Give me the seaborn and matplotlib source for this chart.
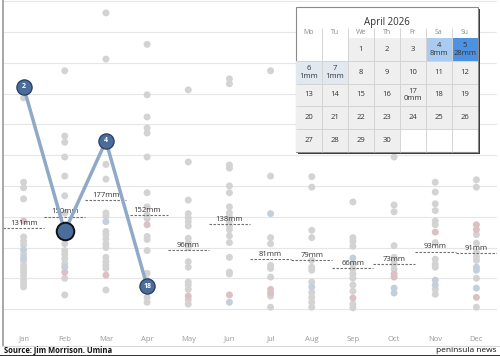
import numpy as np
import pandas as pd
import seaborn as sns
import matplotlib.pyplot as plt
from matplotlib.colors import LinearSegmentedColormap
from matplotlib.patches import Rectangle
from matplotlib.lines import Line2D

months = ["Jan", "Feb", "Mar", "Apr", "May", "Jun",
          "Jul", "Aug", "Sep", "Oct", "Nov", "Dec"]

# past years, monthly rainfall (mm), grey dots
rain_jan = [343, 206, 197, 179, 117, 110, 104, 89, 78, 71, 65, 60, 54, 47, 42, 36]
rain_feb = [387, 281, 271, 247, 216, 184, 156, 106, 95, 89, 82, 74, 50, 23]
rain_mar = [481, 406, 235, 211, 156, 151, 126, 121, 114, 106, 100, 84, 77, 71, 66, 31]
rain_apr = [430, 348, 312, 294, 286, 247, 189, 166, 153, 147, 118, 113, 95, 58, 47, 19, 11]
rain_may = [356, 239, 177, 155, 148, 142, 135, 115, 108, 100, 77, 68, 44, 39, 32, 15, 8]
rain_jun = [374, 366, 234, 229, 200, 189, 166, 156, 150, 142, 135, 129, 119, 108, 84, 60, 57]
rain_jul = [387, 216, 116, 106, 71, 66, 52, 21, 3]
rain_aug = [215, 198, 128, 116, 79, 68, 63, 44, 27, 19, 11, 3]
rain_sep = [174, 116, 110, 102, 73, 65, 57, 50, 39, 29, 8, 2]
rain_oct = [247, 169, 158, 103, 84, 79, 73, 65]
rain_nov = [206, 190, 171, 160, 143, 137, 108, 81, 73, 68, 32, 24]
rain_dec = [210, 198, 121, 107, 92, 85, 79, 50, 3]

# tinted dots
pink_months = ["Jan", "Feb", "Mar", "Apr", "May", "Jun", "Jul", "Jul", "Sep",
               "Oct", "Oct", "Nov", "Dec", "Dec", "Dec"]
pink_vals = [143, 60, 55, 137, 21, 23, 32, 26, 18, 57, 52, 125, 137, 129, 19]
blue_months = ["Jan", "Jan", "Feb", "Mar", "Jun", "Jul", "Aug", "Sep", "Oct",
               "Oct", "Nov", "Nov", "Dec", "Dec", "Dec"]
blue_vals = [96, 83, 68, 142, 11, 155, 36, 83, 34, 26, 47, 39, 68, 63, 34]

mean_mm = [131, 150, 177, 152, 96, 138, 81, 79, 66, 73, 93, 91]

cur_months = ["Jan", "Feb", "Mar", "Apr"]
cur_mm = [361, 126, 273, 37]
cur_rank = ["2", "", "4", "18"]
cur_selected = "Feb"

cal_title = "April 2026"
weekdays = ["Mo", "Tu", "We", "Th", "Fr", "Sa", "Su"]
cal_weeks = [[None, None, 1, 2, 3, 4, 5],
             [6, 7, 8, 9, 10, 11, 12],
             [13, 14, 15, 16, 17, 18, 19],
             [20, 21, 22, 23, 24, 25, 26],
             [27, 28, 29, 30, None, None, None]]
rain_days = [4, 5, 6, 7, 17]
rain_days_mm = [8, 28, 1, 1, 0]

all_rain = [rain_jan, rain_feb, rain_mar, rain_apr, rain_may, rain_jun,
            rain_jul, rain_aug, rain_sep, rain_oct, rain_nov, rain_dec]
rows = []
for m, vals in zip(months, all_rain):
    for v in vals:
        rows.append((m, v, "plain"))
for m, v in zip(pink_months, pink_vals):
    rows.append((m, v, "pink"))
for m, v in zip(blue_months, blue_vals):
    rows.append((m, v, "blue"))
df = pd.DataFrame(rows, columns=["month", "mm", "kind"])

sns.set_theme(style="white")
plt.rcParams["font.family"] = ["Open Sans", "DejaVu Sans"]

W, H = 500, 356
fig = plt.figure(figsize=(W / 100, H / 100), dpi=100)


def fx(px):
    return px / W


def fy(py):
    return 1 - py / H


ax = fig.add_axes([fx(3), fy(330), 494 / W, 330 / H])
for g in range(0, 501, 50):
    ax.axhline(g, color="#e6e6e6", lw=0.8, zorder=0)

sns.stripplot(data=df, x="month", y="mm", hue="kind", order=months,
              hue_order=["plain", "pink", "blue"],
              palette={"plain": "#d3d3d3", "pink": "#dcc0c4", "blue": "#c4cfdc"},
              jitter=False, size=5, linewidth=0, legend=False, ax=ax, zorder=2)

xs = np.arange(len(months))
ax.hlines(mean_mm, xs - 0.5, xs + 0.5, colors="#6e6e6e",
          linestyles=(0, (2.2, 1.4)), lw=0.8, zorder=3)
for i, m in enumerate(mean_mm):
    ax.annotate(f"{m}mm", (i, m), xytext=(0, 1), textcoords="offset points",
                ha="center", va="bottom", fontsize=5.5, color="#333333", zorder=4)

cur_x = [months.index(m) for m in cur_months]
sns.lineplot(x=cur_x, y=cur_mm, sort=False, color="#91a9c9", lw=2.5, ax=ax, zorder=5)
for xv, yv, rk, m in zip(cur_x, cur_mm, cur_rank, cur_months):
    if m == cur_selected:
        ax.scatter(xv, yv, s=160, color="#4a6d9c", edgecolors="#111111",
                   linewidths=1.4, zorder=6)
    else:
        ax.scatter(xv, yv, s=120, color="#4a6d9c", edgecolors="#2a3d5a",
                   linewidths=0.9, zorder=6)
    ax.text(xv, yv, rk, ha="center", va="center", fontsize=5,
            color="white", fontweight="bold", zorder=7)

ax.set_xlim(-0.5, 11.5)
ax.set_ylim(-34, 502)
ax.set_xlabel("")
ax.set_ylabel("")
ax.set_yticks([])
ax.tick_params(axis="x", length=0, pad=4, labelsize=5.5, labelcolor="#9a9a9a")
sns.despine(ax=ax, left=True, bottom=True)

# frame and footer
fig.add_artist(Line2D([fx(2.5), fx(2.5)], [fy(0), fy(346)], transform=fig.transFigure,
                      color="#a0a0a0", lw=1.3))
fig.add_artist(Line2D([fx(2), fx(500)], [fy(346), fy(346)], transform=fig.transFigure,
                      color="#d8d8d8", lw=0.8))
fig.add_artist(Line2D([0, 1], [fy(355.5), fy(355.5)], transform=fig.transFigure,
                      color="#111111", lw=1.2))
fig.text(fx(4), fy(350.5), "Source: Jim Morrison. Umina", fontsize=5.5,
         fontweight="bold", color="#111111", va="center", ha="left")
fig.text(fx(497), fy(350.5), "peninsula news", fontsize=6,
         color="#111111", va="center", ha="right")

# calendar
mm_lookup = dict(zip(rain_days, rain_days_mm))
mat = np.full((5, 7), np.nan)
labels = np.full((5, 7), "", dtype=object)
for r, week in enumerate(cal_weeks):
    for c, d in enumerate(week):
        if d is None:
            continue
        mat[r, c] = mm_lookup.get(d, 0)
        labels[r, c] = f"{d}\n{mm_lookup[d]}mm" if d in mm_lookup else str(d)

cmap = LinearSegmentedColormap.from_list(
    "rain", [(0, "#efefef"), (1 / 28, "#e2e8f0"), (8 / 28, "#a8cbef"), (1, "#4d92e0")])

cal_ax = fig.add_axes([fx(296), fy(152), 182 / W, 114 / H])
cal_ax.add_patch(Rectangle((0.09, -1.27), 7, 6.36, facecolor="#3a3a3a",
                           edgecolor="none", clip_on=False, zorder=0.3))
cal_ax.add_patch(Rectangle((0, -1.36), 7, 6.36, facecolor="white",
                           edgecolor="#8a8a8a", lw=0.8, clip_on=False, zorder=0.5))
sns.heatmap(mat, ax=cal_ax, cmap=cmap, vmin=0, vmax=28, mask=np.isnan(mat),
            annot=labels, fmt="", annot_kws={"fontsize": 5.5, "color": "#333333",
                                             "linespacing": 1.15},
            linewidths=0, cbar=False, xticklabels=False, yticklabels=False)
cal_ax.hlines(np.arange(1, 5), 0, 7, color="#d4d4d4", lw=0.7, zorder=2)
cal_ax.vlines(np.arange(1, 7), -0.44, 5, color="#d4d4d4", lw=0.7, zorder=2, clip_on=False)
for j, wd in enumerate(weekdays):
    cal_ax.text(j + 0.5, -0.22, wd, ha="center", va="center", fontsize=5,
                color="#8a8a8a", clip_on=False)
cal_ax.text(3.5, -0.68, cal_title, ha="center", va="center", fontsize=7,
            color="#333333", clip_on=False)
cal_ax.set_xlim(0, 7)
cal_ax.set_ylim(5, 0)

fig.savefig("out.png", dpi=100)
